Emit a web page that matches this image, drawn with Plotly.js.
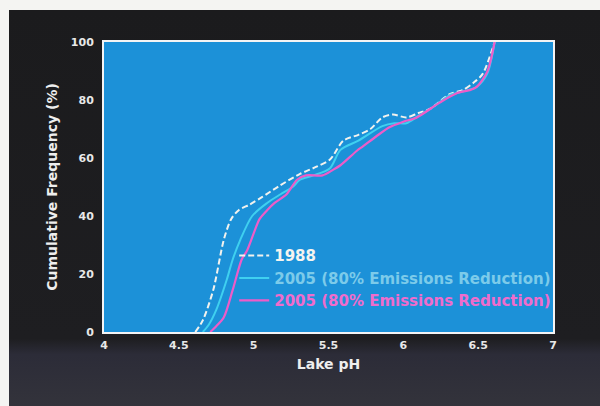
<!DOCTYPE html>
<html>
<head>
<meta charset="utf-8">
<script src="https://cdn.plot.ly/plotly-3.0.1.min.js"></script>
<style>
  html, body { margin: 0; padding: 0; background: #f4f4f2; width: 600px; height: 406px; overflow: hidden; }
  #bg { position: absolute; left: 9px; top: 10px; width: 591px; height: 396px;
        background: linear-gradient(#1b1b1d 0%, #1e1e21 83%, #2c2c38 87%, #33333b 100%); }
  #chart { position: absolute; left: 0; top: 0; width: 600px; height: 406px; }
</style>
</head>
<body>
<div id="bg"></div>
<div id="chart"></div>
<script>
// pH values and cumulative frequency (%)
const ph1988 = [4.61, 4.66, 4.73, 4.80, 4.85, 4.90, 4.975, 5.055, 5.175, 5.31, 5.42, 5.51, 5.60, 5.70, 5.78, 5.86, 5.93, 6.02, 6.10, 6.18, 6.31, 6.40, 6.47, 6.53, 6.61];
const cf1988 = [0, 4, 14.5, 31.7, 39, 42, 44, 46.5, 50.5, 54.5, 57, 59.5, 66, 68, 70, 74, 75, 74, 75.5, 77, 82, 83.5, 86, 89, 100];

const phCyan = [4.66, 4.70, 4.75, 4.82, 4.86, 4.91, 4.99, 5.09, 5.18, 5.26, 5.31, 5.40, 5.51, 5.58, 5.70, 5.86, 5.94, 6.02, 6.10, 6.20, 6.31, 6.40, 6.49, 6.56, 6.61];
const cfCyan = [0, 2.5, 7.6, 18, 25, 31.7, 40, 44.5, 47.5, 50, 52.5, 54, 56.5, 62.8, 66, 71, 72, 72, 74.5, 77.6, 81.7, 83, 84.5, 89, 100];

const phPink = [4.71, 4.75, 4.80, 4.86, 4.92, 4.955, 5.00, 5.04, 5.09, 5.14, 5.22, 5.29, 5.35, 5.46, 5.53, 5.58, 5.69, 5.73, 5.82, 5.91, 6.00, 6.09, 6.24, 6.36, 6.45, 6.49, 6.56, 6.61];
const cfPink = [0, 2, 5, 14.5, 25, 28, 34, 39, 42, 44.5, 47.5, 52.5, 54, 54, 55.9, 57.5, 62.5, 64, 67.5, 70.7, 72.5, 74, 79, 82.4, 83.5, 84.5, 89.7, 100];

const seriesNames = ['1988', '2005 (80% Emissions Reduction)', '2005 (80% Emissions Reduction)'];
const xTicks = [4, 4.5, 5, 5.5, 6, 6.5, 7];
const xTickText = ['4', '4.5', '5', '5.5', '6', '6.5', '7'];
const yTicks = [0, 20, 40, 60, 80, 100];

const FONT = 'DejaVu Sans, Verdana, sans-serif';

const traces = [
  { x: ph1988, y: cf1988, mode: 'lines', line: { color: '#f2f2ee', width: 2, dash: '6px,3px', shape: 'spline', smoothing: 0.8 },
    name: '<span style="color:#f4f4f0">' + seriesNames[0] + '</span>' },
  { x: phCyan, y: cfCyan, mode: 'lines', line: { color: '#3fd0f0', width: 2, shape: 'spline', smoothing: 0.8 },
    name: '<span style="color:#7ccbea">' + seriesNames[1] + '</span>' },
  { x: phPink, y: cfPink, mode: 'lines', line: { color: '#ee5cc8', width: 2.2, shape: 'spline', smoothing: 0.8 },
    name: '<span style="color:#f06ccc">' + seriesNames[2] + '</span>' }
];

const layout = {
  width: 600, height: 406,
  margin: { l: 104, r: 47, t: 42, b: 74, pad: 0 },
  paper_bgcolor: 'rgba(0,0,0,0)',
  plot_bgcolor: '#1c91d8',
  font: { family: FONT, color: '#f0f0f0' },
  showlegend: true,
  legend: {
    x: 0.29, y: 0.32, xanchor: 'left', yanchor: 'top',
    bgcolor: 'rgba(0,0,0,0)', borderwidth: 0,
    font: { size: 15, family: FONT, weight: 'bold' },
    tracegroupgap: 7, itemwidth: 30
  },
  xaxis: {
    range: [4, 7], tickvals: xTicks, ticktext: xTickText,
    showgrid: false, zeroline: false, ticks: '',
    showline: true, linecolor: '#f4f4f4', linewidth: 2, mirror: true,
    tickfont: { size: 11, color: '#e8e8e8', weight: 'bold', family: FONT },
    ticklabelstandoff: 2,
    title: { text: 'Lake pH', font: { size: 14, color: '#eeeeee', weight: 'bold', family: FONT }, standoff: 8 }
  },
  yaxis: {
    range: [0, 100], tickvals: yTicks,
    showgrid: false, zeroline: false, ticks: '',
    showline: true, linecolor: '#f4f4f4', linewidth: 2, mirror: true,
    tickfont: { size: 11, color: '#e8e8e8', weight: 'bold', family: FONT },
    ticklabelstandoff: 6,
    title: { text: 'Cumulative Frequency (%)', font: { size: 14, color: '#eeeeee', weight: 'bold', family: FONT }, standoff: 10 }
  }
};

Plotly.newPlot('chart', traces, layout, { displayModeBar: false, staticPlot: true });
</script>
</body>
</html>
